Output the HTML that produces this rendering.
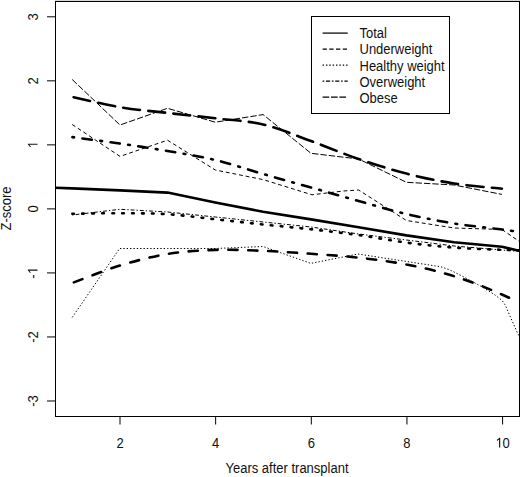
<!DOCTYPE html><html><head><meta charset="utf-8"><style>html,body{margin:0;padding:0;background:#fff;}svg{display:block;}</style></head><body><svg width="520" height="477" viewBox="0 0 520 477" font-family='"Liberation Sans", sans-serif' font-size="13" fill="#111"><rect x="0" y="0" width="520" height="477" fill="#fff"/><rect x="55" y="0" width="465" height="1" fill="#d8d8d8"/><defs><clipPath id="c"><rect x="55" y="1" width="465" height="416"/></clipPath><clipPath id="c2"><rect x="55" y="1" width="459" height="416"/></clipPath></defs><g clip-path="url(#c)" fill="none" stroke="#000"><path d="M72.2,79.5 L120.0,125.0 L167.5,108.3 L215.3,122.2 L263.1,114.6 L311.0,153.3 L358.6,159.0 L406.4,182.3 L454.1,185.0 L501.9,194.4" stroke-width="1" stroke-dasharray="6.38 2.02"/><path d="M72.2,124.5 L120.0,156.4 L167.5,140.2 L215.3,170.0 L263.1,179.6 L312.0,194.8 L343.5,191.0 L358.6,190.0 L406.4,220.5 L454.1,228.0 L501.9,229.5 L549.6,262.0" stroke-width="1" stroke-dasharray="3.86 2.86"/><path d="M72.2,215.0 L120.0,209.3 L167.5,212.0 L215.3,217.0 L263.1,222.0 L311.0,227.0 L358.6,234.0 L406.4,240.0 L454.1,246.0 L501.9,250.0 L549.6,254.0" stroke-width="1" stroke-dasharray="1.34 2.02 3.86 2.02"/><path d="M72.2,317.4 L119.6,248.5 L167.5,248.5 L215.3,248.5 L263.1,246.5 L310.8,263.4 L357.9,254.0 L441.0,266.8 L450.0,270.0 L465.1,277.6 L481.9,286.8 L495.3,295.2 L502.0,300.3 L505.4,305.3 L510.4,317.0 L517.1,332.1 L522.0,342.0" stroke-width="1" stroke-dasharray="1.34 2.02"/><g stroke-width="2.6" stroke-linecap="round"><path d="M72.2,96.9 C80.2,98.6 104.1,104.5 120.0,107.2 C135.9,109.9 151.6,111.1 167.5,112.9 C183.4,114.8 199.4,116.4 215.3,118.3 C231.2,120.2 247.2,120.7 263.1,124.5 C279.1,128.3 295.1,135.2 311.0,141.0 C326.9,146.8 342.7,153.6 358.6,159.0 C374.5,164.4 390.5,169.5 406.4,173.6 C422.3,177.7 438.2,181.0 454.1,183.5 C470.0,186.0 493.9,187.8 501.9,188.7" stroke-dasharray="16.890 8.382" stroke-dashoffset="23.677"/><path d="M72.2,137.1 C80.2,138.2 104.1,141.3 120.0,143.6 C135.9,145.9 151.6,148.3 167.5,151.0 C183.4,153.7 199.4,156.2 215.3,160.0 C231.2,163.8 247.2,169.4 263.1,174.0 C279.1,178.6 295.1,183.0 311.0,187.5 C326.9,192.0 342.7,196.6 358.6,201.0 C374.5,205.4 390.5,210.2 406.4,214.0 C422.3,217.8 438.2,220.9 454.1,223.5 C470.0,226.1 486.0,227.4 501.9,229.5 C517.8,231.6 541.6,234.9 549.6,236.0" stroke-dasharray="1.754 8.461 9.415 8.461" stroke-dashoffset="27.819"/><path d="M24.4,186.8 L72.2,188.4 L120.0,190.4 L167.5,192.6 L215.3,202.6 L263.1,211.8 L311.0,219.4 L358.6,227.3 L406.4,235.4 L454.1,242.2 L501.9,246.7 L549.6,258.0" stroke-linejoin="round"/><path d="M72.2,213.8 C80.2,213.7 104.1,213.1 120.0,213.2 C135.9,213.3 151.6,213.2 167.5,214.2 C183.4,215.2 199.4,217.6 215.3,219.3 C231.2,221.0 247.2,222.8 263.1,224.5 C279.1,226.2 295.1,227.5 311.0,229.3 C326.9,231.1 342.7,232.9 358.6,235.1 C374.5,237.3 390.5,240.5 406.4,242.6 C422.3,244.7 438.2,246.4 454.1,247.6 C470.0,248.8 486.0,249.2 501.9,249.8 C517.8,250.4 541.6,250.8 549.6,251.0" stroke-dasharray="1.687 8.262" stroke-dashoffset="9.784"/><path clip-path="url(#c2)" d="M72.2,283.0 C80.2,280.1 104.1,270.3 120.0,265.5 C135.9,260.7 151.6,256.6 167.5,254.0 C183.4,251.4 199.4,250.4 215.3,249.9 C231.2,249.4 247.2,250.2 263.1,250.8 C279.1,251.5 295.1,252.7 311.0,253.8 C326.9,255.0 342.7,255.9 358.6,257.7 C374.5,259.5 390.5,261.4 406.4,264.5 C422.3,267.6 438.2,271.2 454.1,276.2 C470.0,281.2 486.0,287.5 501.9,294.5 C517.8,301.5 541.6,314.1 549.6,318.0" stroke-dasharray="9.133 10.734" stroke-dashoffset="17.934"/></g></g><rect x="55.5" y="1.5" width="464" height="415" fill="none" stroke="#000" stroke-width="1"/><line x1="47" y1="16.81" x2="55" y2="16.81" stroke="#000" stroke-width="1"/><text transform="translate(37.50,16.81) rotate(-90) scale(1.0,1.08)" text-anchor="middle">3</text><line x1="47" y1="80.84" x2="55" y2="80.84" stroke="#000" stroke-width="1"/><text transform="translate(37.50,80.84) rotate(-90) scale(1.0,1.08)" text-anchor="middle">2</text><line x1="47" y1="144.87" x2="55" y2="144.87" stroke="#000" stroke-width="1"/><g transform="translate(37.50,144.87) rotate(-90) scale(1.0,1.08)"><path transform="translate(-3.615,0) scale(0.006348,-0.006348)" d="M583,0 L763,0 L763,1409 L650,1409 L250,1115 L250,945 L583,1185 Z"/></g><line x1="47" y1="208.90" x2="55" y2="208.90" stroke="#000" stroke-width="1"/><text transform="translate(37.50,208.90) rotate(-90) scale(1.0,1.08)" text-anchor="middle">0</text><line x1="47" y1="272.93" x2="55" y2="272.93" stroke="#000" stroke-width="1"/><g transform="translate(37.50,272.93) rotate(-90) scale(1.0,1.08)"><text x="-5.780" y="0">-</text><path transform="translate(-1.450,0) scale(0.006348,-0.006348)" d="M583,0 L763,0 L763,1409 L650,1409 L250,1115 L250,945 L583,1185 Z"/></g><line x1="47" y1="336.96" x2="55" y2="336.96" stroke="#000" stroke-width="1"/><text transform="translate(37.50,336.96) rotate(-90) scale(1.0,1.08)" text-anchor="middle">-2</text><line x1="47" y1="400.99" x2="55" y2="400.99" stroke="#000" stroke-width="1"/><text transform="translate(37.50,400.99) rotate(-90) scale(1.0,1.08)" text-anchor="middle">-3</text><line x1="120.00" y1="417" x2="120.00" y2="424.5" stroke="#000" stroke-width="1"/><text transform="translate(120.00,447.50) scale(1.0,1.08)" text-anchor="middle">2</text><line x1="215.65" y1="417" x2="215.65" y2="424.5" stroke="#000" stroke-width="1"/><text transform="translate(215.65,447.50) scale(1.0,1.08)" text-anchor="middle">4</text><line x1="311.30" y1="417" x2="311.30" y2="424.5" stroke="#000" stroke-width="1"/><text transform="translate(311.30,447.50) scale(1.0,1.08)" text-anchor="middle">6</text><line x1="406.95" y1="417" x2="406.95" y2="424.5" stroke="#000" stroke-width="1"/><text transform="translate(406.95,447.50) scale(1.0,1.08)" text-anchor="middle">8</text><line x1="502.60" y1="417" x2="502.60" y2="424.5" stroke="#000" stroke-width="1"/><g transform="translate(502.60,447.50) scale(1.0,1.08)"><path transform="translate(-7.230,0) scale(0.006348,-0.006348)" d="M583,0 L763,0 L763,1409 L650,1409 L250,1115 L250,945 L583,1185 Z"/><text x="0.000" y="0">0</text></g><text transform="translate(287.00,473.00) scale(1.0,1.08)" text-anchor="middle">Years after transplant</text><text transform="translate(11.00,208.50) rotate(-90) scale(1.0,1.08)" text-anchor="middle">Z-score</text><rect x="311.5" y="16.5" width="138" height="97" fill="#fff" stroke="#000" stroke-width="1"/><line x1="322.6" y1="33.1" x2="347.7" y2="33.1" stroke="#000" stroke-width="1.25"/><text transform="translate(359.50,38.00) scale(1.0,1.08)">Total</text><line x1="322.6" y1="49.1" x2="347.7" y2="49.1" stroke="#000" stroke-width="1.25" stroke-dasharray="4.26 2.46"/><text transform="translate(359.50,54.35) scale(1.0,1.08)">Underweight</text><line x1="322.6" y1="65.2" x2="347.7" y2="65.2" stroke="#000" stroke-width="1.25" stroke-dasharray="1.44 1.92"/><text transform="translate(359.50,71.00) scale(1.0,1.08)">Healthy weight</text><line x1="322.6" y1="81.2" x2="347.7" y2="81.2" stroke="#000" stroke-width="1.25" stroke-dasharray="1.64 1.72 4.16 1.72"/><text transform="translate(359.50,87.40) scale(1.0,1.08)">Overweight</text><line x1="322.6" y1="97.2" x2="347.7" y2="97.2" stroke="#000" stroke-width="1.25" stroke-dasharray="6.68 1.72"/><text transform="translate(359.50,103.10) scale(1.0,1.08)">Obese</text></svg></body></html>
